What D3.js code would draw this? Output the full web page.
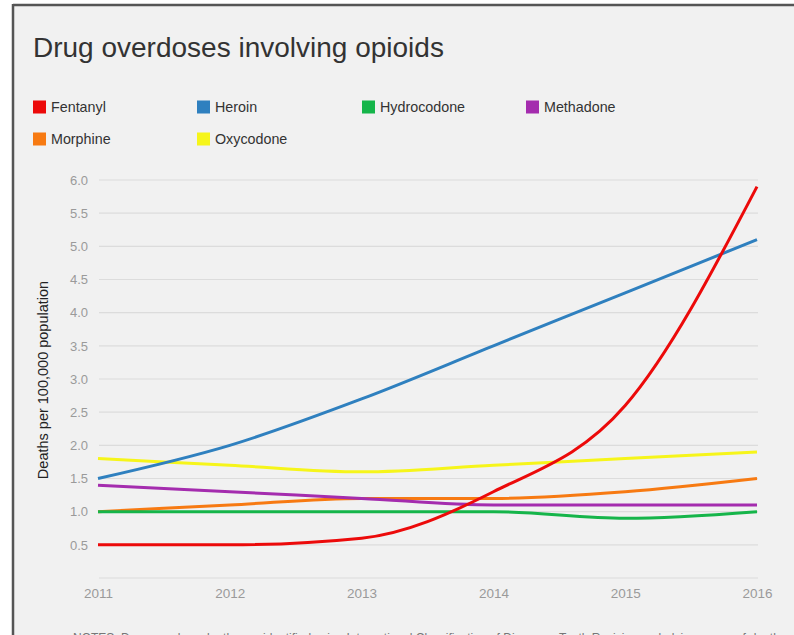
<!DOCTYPE html>
<html><head><meta charset="utf-8">
<script src="https://cdn.jsdelivr.net/npm/d3@7"></script>
<style>
html,body{margin:0;padding:0;background:#fff;}
svg{display:block;}
</style></head>
<body>
<script>
const years = [2011, 2012, 2013, 2014, 2015, 2016];
const seriesNames = ["Fentanyl", "Heroin", "Hydrocodone", "Methadone", "Morphine", "Oxycodone"];
const fentanyl    = [0.5, 0.5, 0.6, 1.3, 2.6, 5.9];
const heroin      = [1.5, 2.0, 2.7, 3.5, 4.3, 5.1];
const hydrocodone = [1.0, 1.0, 1.0, 1.0, 0.9, 1.0];
const methadone   = [1.4, 1.3, 1.2, 1.1, 1.1, 1.1];
const morphine    = [1.0, 1.1, 1.2, 1.2, 1.3, 1.5];
const oxycodone   = [1.8, 1.7, 1.6, 1.7, 1.8, 1.9];
const seriesColors = ["#ec0a0a", "#2f80bf", "#15b54a", "#a42cae", "#f77a12", "#f6f51a"];
const yTicks = [0.5, 1.0, 1.5, 2.0, 2.5, 3.0, 3.5, 4.0, 4.5, 5.0, 5.5, 6.0];
const titleText = "Drug overdoses involving opioids";
const yTitle = "Deaths per 100,000 population";
const noteText = "NOTES: Drug overdose deaths are identified using International Classification of Diseases, Tenth Revision underlying cause-of-death codes";

const values = [fentanyl, heroin, hydrocodone, methadone, morphine, oxycodone];
const W = 794, H = 635;
const font = "'Liberation Sans', Arial, Helvetica, sans-serif";

const svg = d3.select("body").append("svg").attr("width", W).attr("height", H);
svg.append("rect").attr("x", 13).attr("y", 5).attr("width", W - 13).attr("height", H - 5).attr("fill", "#f1f1f1");
svg.append("line").attr("x1", 13).attr("x2", W).attr("y1", 5).attr("y2", 5).attr("stroke", "#555").attr("stroke-width", 2.5);
svg.append("line").attr("x1", 13).attr("x2", 13).attr("y1", 4).attr("y2", H).attr("stroke", "#555").attr("stroke-width", 2.5);

svg.append("text").attr("x", 33).attr("y", 57).attr("font-family", font).attr("font-size", 28)
  .attr("fill", "#333").attr("font-weight", 300).text(titleText);

// legend
const legendCols = [33, 197, 362, 526];
seriesNames.forEach((n, i) => {
  const col = i % 4, row = Math.floor(i / 4);
  const g = svg.append("g").attr("transform", `translate(${legendCols[col]},${107 + row * 32})`);
  g.append("rect").attr("x", 0).attr("y", -6.5).attr("width", 13).attr("height", 13).attr("fill", seriesColors[i]);
  g.append("text").attr("x", 18).attr("y", 5).attr("font-family", font).attr("font-size", 14.3)
    .attr("fill", "#333").text(n);
});

const x = d3.scaleLinear().domain([2011, 2016]).range([98, 757]);
const y = d3.scaleLinear().domain([0, 6]).range([578, 180]);

// grid
const grid = svg.append("g");
grid.selectAll("line").data([0].concat(yTicks)).join("line")
  .attr("x1", 99).attr("x2", 758).attr("y1", d => y(d)).attr("y2", d => y(d))
  .attr("stroke", "#dcdcdc").attr("stroke-width", 1.2);

// y axis
const yAxis = svg.append("g").attr("transform", "translate(88,0)")
  .call(d3.axisLeft(y).tickValues(yTicks).tickFormat(d3.format(".1f")).tickSize(0).tickPadding(0));
yAxis.select(".domain").remove();
yAxis.selectAll("text").attr("font-family", font).attr("font-size", 13).attr("fill", "#9a9a9a");

// x axis
const xAxis = svg.append("g").attr("transform", "translate(0,588)")
  .call(d3.axisBottom(x).tickValues(years).tickFormat(d3.format("d")).tickSize(0).tickPadding(0));
xAxis.select(".domain").remove();
xAxis.selectAll("text").attr("font-family", font).attr("font-size", 13.5).attr("fill", "#9a9a9a");

svg.append("text").attr("transform", "translate(48,380) rotate(-90)").attr("text-anchor", "middle")
  .attr("font-family", font).attr("font-size", 14.5).attr("fill", "#222").text(yTitle);

const line = d3.line().x((d, i) => x(years[i])).y(d => y(d)).curve(d3.curveMonotoneX);
const order = [5, 4, 3, 2, 1, 0];
order.forEach(i => {
  svg.append("path").attr("d", line(values[i])).attr("fill", "none")
    .attr("stroke", seriesColors[i]).attr("stroke-width", 3);
});

svg.append("text").attr("x", 73).attr("y", 642).attr("font-family", font).attr("font-size", 12)
  .attr("fill", "#777").text(noteText);
</script>
</body></html>
